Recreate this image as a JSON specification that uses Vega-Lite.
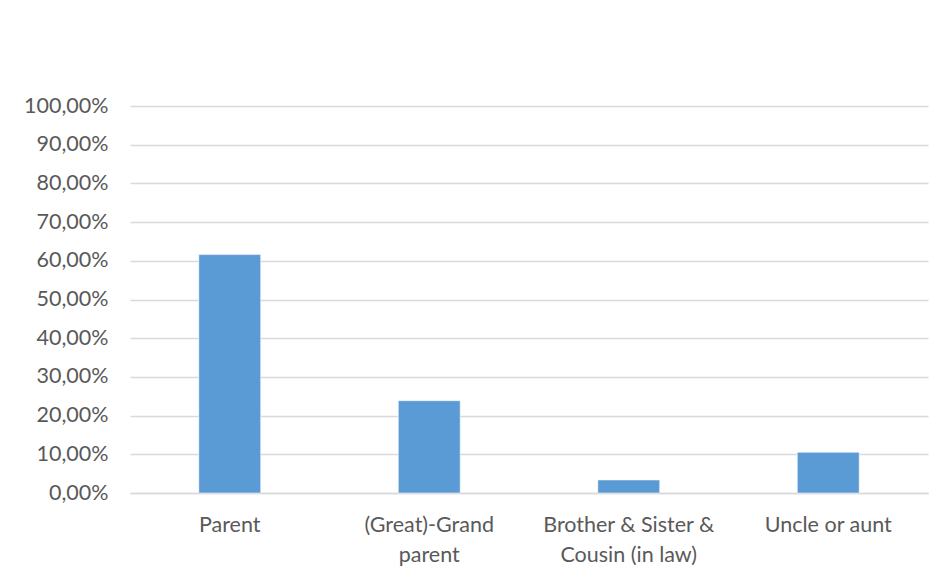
{
  "$schema": "https://vega.github.io/schema/vega-lite/v6.json",
  "autosize": "none",
  "width": 798,
  "height": 387,
  "padding": {"left": 130, "top": 106, "right": 15, "bottom": 87},
  "background": "white",
  "config": {
    "view": {"stroke": null},
    "font": "Lato",
    "axis": {"labelFont": "Lato", "labelColor": "#595959", "labelFontSize": 21.5}
  },
  "data": {
    "values": [
      {"relation": "Parent", "share": 0.616},
      {"relation": "(Great)-Grand parent", "share": 0.2385},
      {"relation": "Brother & Sister & Cousin (in law)", "share": 0.0336},
      {"relation": "Uncle or aunt", "share": 0.105}
    ]
  },
  "mark": {"type": "bar", "color": "#5b9bd5", "stroke": "white", "strokeWidth": 0.5},
  "encoding": {
    "x": {
      "field": "relation",
      "type": "nominal",
      "sort": null,
      "scale": {"paddingInner": 0.69, "paddingOuter": 0.345},
      "axis": {
        "title": null,
        "labelAngle": 0,
        "ticks": false,
        "domainColor": "#d9d9d9",
        "domainWidth": 1.5,
        "labelPadding": 21,
        "labelBaseline": "top",
        "labelLineHeight": 30,
        "labelExpr": "datum.label == '(Great)-Grand parent' ? ['(Great)-Grand', 'parent'] : datum.label == 'Brother & Sister & Cousin (in law)' ? ['Brother & Sister &', 'Cousin (in law)'] : datum.label"
      }
    },
    "y": {
      "field": "share",
      "type": "quantitative",
      "scale": {"domain": [0, 1]},
      "axis": {
        "title": null,
        "values": [0, 0.1, 0.2, 0.3, 0.4, 0.5, 0.6, 0.7, 0.8, 0.9, 1],
        "domain": false,
        "ticks": false,
        "gridColor": "#d9d9d9",
        "gridWidth": 1.5,
        "labelPadding": 22,
        "labelExpr": "replace(format(datum.value, '.2%'), '.', ',')"
      }
    }
  }
}
